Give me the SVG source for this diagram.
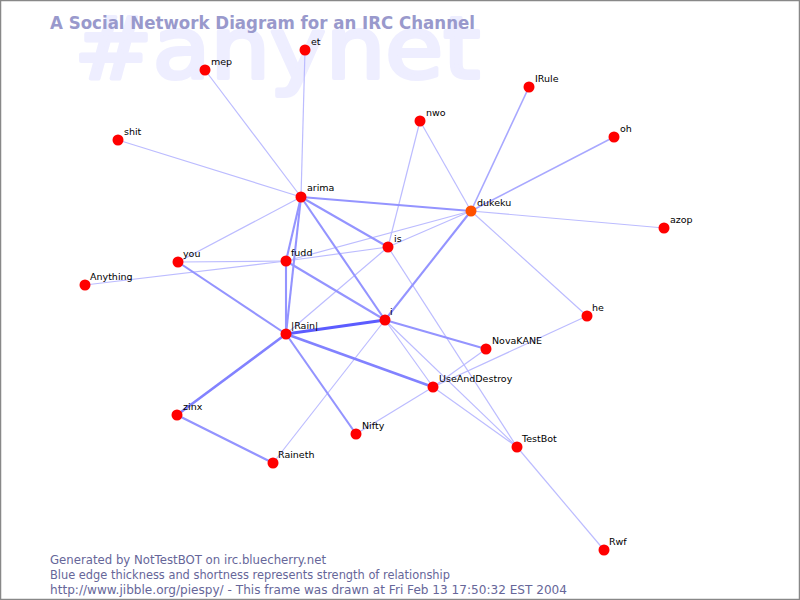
<svg xmlns="http://www.w3.org/2000/svg" width="800" height="600" viewBox="0 0 800 600">
<style>
.wm{font-family:"DejaVu Sans","Liberation Sans",sans-serif;font-size:86px;fill:#eeeeff;stroke:#eeeeff;stroke-width:4;stroke-linejoin:round}
.title{font-family:"DejaVu Sans","Liberation Sans",sans-serif;font-size:17px;font-weight:bold;fill:#9999cc}
.foot{font-family:"DejaVu Sans","Liberation Sans",sans-serif;font-size:11.5px;fill:#666699}
.lbl{font-family:"DejaVu Sans","Liberation Sans",sans-serif;font-size:9.5px;fill:#000}
.e1{stroke:#bcbcff;stroke-width:1.2;fill:none}
.e15{stroke:#a8a8ff;stroke-width:1.6;fill:none}
.e2{stroke:#9494ff;stroke-width:2.1;fill:none}
.e25{stroke:#8282ff;stroke-width:2.6;fill:none}
.e3{stroke:#5c5cff;stroke-width:3.2;fill:none}
.n{fill:#ff0000}
.no{fill:#ff5000}
</style>
<rect x="0" y="0" width="800" height="600" fill="#ffffff"/>
<text class="wm" x="74" y="78" textLength="406" lengthAdjust="spacingAndGlyphs">#anynet</text>
<text class="title" x="50" y="29" textLength="425" lengthAdjust="spacingAndGlyphs">A Social Network Diagram for an IRC Channel</text>
<g id="connectors">
<line class="e1" x1="205" y1="70" x2="301" y2="197"/>
<line class="e1" x1="305" y1="50" x2="301" y2="197"/>
<line class="e1" x1="118" y1="140" x2="301" y2="197"/>
<line class="e1" x1="301" y1="197" x2="178" y2="262"/>
<line class="e1" x1="420" y1="121" x2="471" y2="211"/>
<line class="e1" x1="420" y1="121" x2="388" y2="247"/>
<line class="e1" x1="664" y1="228" x2="471" y2="211"/>
<line class="e1" x1="471" y1="211" x2="388" y2="247"/>
<line class="e1" x1="471" y1="211" x2="286" y2="261"/>
<line class="e1" x1="471" y1="211" x2="587" y2="316"/>
<line class="e1" x1="388" y1="247" x2="286" y2="261"/>
<line class="e1" x1="388" y1="247" x2="286" y2="334"/>
<line class="e1" x1="388" y1="247" x2="517" y2="447"/>
<line class="e1" x1="286" y1="261" x2="178" y2="262"/>
<line class="e1" x1="286" y1="261" x2="85" y2="285"/>
<line class="e1" x1="273" y1="463" x2="385" y2="320"/>
<line class="e1" x1="385" y1="320" x2="433" y2="387"/>
<line class="e1" x1="385" y1="320" x2="517" y2="447"/>
<line class="e1" x1="486" y1="349" x2="433" y2="387"/>
<line class="e1" x1="433" y1="387" x2="587" y2="316"/>
<line class="e1" x1="433" y1="387" x2="356" y2="434"/>
<line class="e1" x1="433" y1="387" x2="517" y2="447"/>
<line class="e1" x1="517" y1="447" x2="604" y2="550"/>
<line class="e15" x1="614" y1="137" x2="471" y2="211"/>
<line class="e15" x1="529" y1="87" x2="471" y2="211"/>
<line class="e2" x1="301" y1="197" x2="471" y2="211"/>
<line class="e2" x1="301" y1="197" x2="286" y2="261"/>
<line class="e2" x1="301" y1="197" x2="286" y2="334"/>
<line class="e2" x1="301" y1="197" x2="388" y2="247"/>
<line class="e2" x1="301" y1="197" x2="385" y2="320"/>
<line class="e2" x1="286" y1="261" x2="286" y2="334"/>
<line class="e2" x1="286" y1="261" x2="385" y2="320"/>
<line class="e2" x1="178" y1="262" x2="286" y2="334"/>
<line class="e2" x1="286" y1="334" x2="356" y2="434"/>
<line class="e2" x1="177" y1="415" x2="273" y2="463"/>
<line class="e2" x1="385" y1="320" x2="486" y2="349"/>
<line class="e2" x1="385" y1="320" x2="471" y2="211"/>
<line class="e25" x1="286" y1="334" x2="177" y2="415"/>
<line class="e25" x1="286" y1="334" x2="433" y2="387"/>
<line class="e3" x1="286" y1="334" x2="385" y2="320"/>
</g>
<g id="node-et"><circle class="n" cx="305" cy="50" r="5.5"/><text class="lbl" x="311" y="45">et</text></g>
<g id="node-mep"><circle class="n" cx="205" cy="70" r="5.5"/><text class="lbl" x="211" y="65">mep</text></g>
<g id="node-shit"><circle class="n" cx="118" cy="140" r="5.5"/><text class="lbl" x="124" y="135">shit</text></g>
<g id="node-IRule"><circle class="n" cx="529" cy="87" r="5.5"/><text class="lbl" x="535" y="82">IRule</text></g>
<g id="node-nwo"><circle class="n" cx="420" cy="121" r="5.5"/><text class="lbl" x="426" y="116">nwo</text></g>
<g id="node-oh"><circle class="n" cx="614" cy="137" r="5.5"/><text class="lbl" x="620" y="132">oh</text></g>
<g id="node-arima"><circle class="n" cx="301" cy="197" r="5.5"/><text class="lbl" x="307" y="191">arima</text></g>
<g id="node-dukeku"><circle class="no" cx="471" cy="211" r="5.5"/><text class="lbl" x="477" y="206">dukeku</text></g>
<g id="node-azop"><circle class="n" cx="664" cy="228" r="5.5"/><text class="lbl" x="670" y="223">azop</text></g>
<g id="node-is"><circle class="n" cx="388" cy="247" r="5.5"/><text class="lbl" x="394" y="242">is</text></g>
<g id="node-fudd"><circle class="n" cx="286" cy="261" r="5.5"/><text class="lbl" x="291" y="256">fudd</text></g>
<g id="node-you"><circle class="n" cx="178" cy="262" r="5.5"/><text class="lbl" x="183" y="257">you</text></g>
<g id="node-Anything"><circle class="n" cx="85" cy="285" r="5.5"/><text class="lbl" x="90" y="280">Anything</text></g>
<g id="node-he"><circle class="n" cx="587" cy="316" r="5.5"/><text class="lbl" x="592" y="311">he</text></g>
<g id="node-i"><circle class="n" cx="385" cy="320" r="5.5"/><text class="lbl" x="390" y="315">i</text></g>
<g id="node-Rain"><circle class="n" cx="286" cy="334" r="5.5"/><text class="lbl" x="291" y="329">|Rain|</text></g>
<g id="node-NovaKANE"><circle class="n" cx="486" cy="349" r="5.5"/><text class="lbl" x="492" y="344">NovaKANE</text></g>
<g id="node-UseAndDestroy"><circle class="n" cx="433" cy="387" r="5.5"/><text class="lbl" x="439" y="382">UseAndDestroy</text></g>
<g id="node-zinx"><circle class="n" cx="177" cy="415" r="5.5"/><text class="lbl" x="183" y="410">zinx</text></g>
<g id="node-Nifty"><circle class="n" cx="356" cy="434" r="5.5"/><text class="lbl" x="362" y="429">Nifty</text></g>
<g id="node-TestBot"><circle class="n" cx="517" cy="447" r="5.5"/><text class="lbl" x="522" y="442">TestBot</text></g>
<g id="node-Raineth"><circle class="n" cx="273" cy="463" r="5.5"/><text class="lbl" x="278" y="458">Raineth</text></g>
<g id="node-Rwf"><circle class="n" cx="604" cy="550" r="5.5"/><text class="lbl" x="609" y="545">Rwf</text></g>
<text class="foot" x="50" y="564" textLength="276" lengthAdjust="spacingAndGlyphs">Generated by NotTestBOT on irc.bluecherry.net</text>
<text class="foot" x="50" y="579" textLength="400" lengthAdjust="spacingAndGlyphs">Blue edge thickness and shortness represents strength of relationship</text>
<text class="foot" x="50" y="594" textLength="517" lengthAdjust="spacingAndGlyphs">http://www.jibble.org/piespy/ - This frame was drawn at Fri Feb 13 17:50:32 EST 2004</text>
<rect x="0.5" y="0.5" width="799" height="599" fill="none" stroke="#888888" stroke-width="1.5"/>
</svg>
